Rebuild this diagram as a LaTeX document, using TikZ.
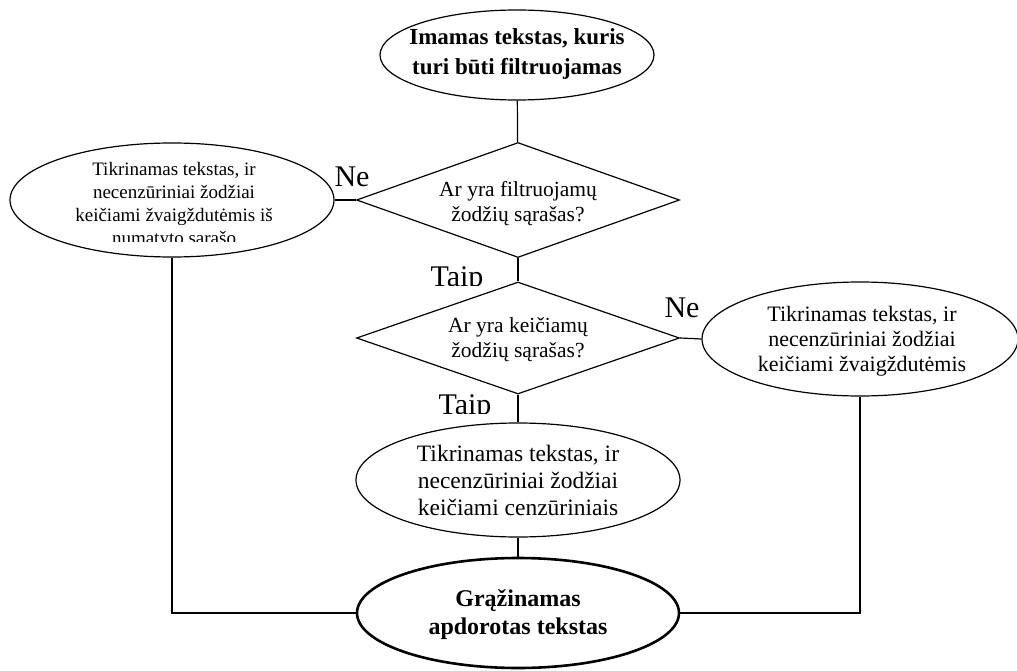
\documentclass[tikz,border=0pt]{standalone}
\usepackage{fontspec}
\setmainfont{Liberation Serif}
\usetikzlibrary{shapes.geometric}

\tikzset{
	oval/.style={draw,ellipse,line width=1.2pt,inner sep=0pt,minimum width=324pt,minimum height=114pt},
	question/.style={draw,diamond,aspect=2.8,line width=1.2pt,inner sep=0pt,minimum width=323pt,minimum height=115pt},
	txt/.style={align=center,inner sep=0pt},
	conn/.style={line width=1.2pt},
	answer/.style={inner sep=0pt,anchor=base,font=\fontsize{30}{30}\selectfont}
}

\begin{document}
\begin{tikzpicture}[x=1pt,y=-1pt]
	\useasboundingbox (0,0) rectangle (1017,671);
	%ovals
	\node[oval,minimum width=274pt,minimum height=90pt] (start) at (517,55) {};
	\node[oval] (star) at (172,200) {};
	\node[oval,minimum width=316pt] (stars) at (860,339) {};
	\node[oval] (swap) at (518,480) {};
	\node[oval,line width=2.6pt,minimum width=322pt,minimum height=110pt] (end) at (518,613) {};

	%diamonds
	\node[question] (hasfilter) at (518,200) {};
	\node[question,minimum height=112pt] (hasswap) at (518,338) {};

	%texts
	\node[txt,font=\fontsize{23}{30}\selectfont\bfseries] (starttext) at (517,54) {Imamas tekstas, kuris\\turi būti filtruojamas};
	\node[txt,font=\fontsize{21.5}{25}\selectfont] (hasfiltertext) at (518,204) {Ar yra filtruojamų\\žodžių sąrašas?};
	\node[txt,font=\fontsize{21.5}{25}\selectfont] (hasswaptext) at (518,340) {Ar yra keičiamų\\žodžių sąrašas?};
	\node[txt,font=\fontsize{22}{25}\selectfont] (starstext) at (862,341) {Tikrinamas tekstas, ir\\necenzūriniai žodžiai\\keičiami žvaigždutėmis};
	\node[txt,font=\fontsize{23.5}{27}\selectfont] (swaptext) at (518,480) {Tikrinamas tekstas, ir\\necenzūriniai žodžiai\\keičiami cenzūriniais};
	\node[txt,font=\fontsize{24}{28}\selectfont\bfseries] (endtext) at (518,615) {Grąžinamas\\apdorotas tekstas};
	\begin{scope}
		\clip (20,150) rectangle (330,241);
		\node[txt,font=\fontsize{19}{23}\selectfont] (startext) at (174,205) {Tikrinamas tekstas, ir\\necenzūriniai žodžiai\\keičiami žvaigždutėmis iš\\numatyto sąrašo};
	\end{scope}

	%lines
	\draw[conn] (start) -- (hasfilter);
	\draw[conn] (hasfilter.west) -- (star.east);
	\draw[conn] (hasfilter) -- (hasswap);
	\draw[conn] (hasswap.east) -- (stars.west);
	\draw[conn] (hasswap) -- (swap);
	\draw[conn] (swap) -- (end);
	\draw[conn] (star.south) |- (end.west);
	\draw[conn] (stars.south) |- (end.east);

	%answers
	\node[answer] (ne1) at (352,187) {Ne};
	\node[answer] (ne2) at (682,317) {Ne};
	\begin{scope}
		\clip (400,255) rectangle (515,285);
		\node[answer] (taip1) at (457,286) {Taip};
	\end{scope}
	\begin{scope}
		\clip (400,385) rectangle (515,413);
		\node[answer] (taip2) at (465,414) {Taip};
	\end{scope}
\end{tikzpicture}
\end{document}
